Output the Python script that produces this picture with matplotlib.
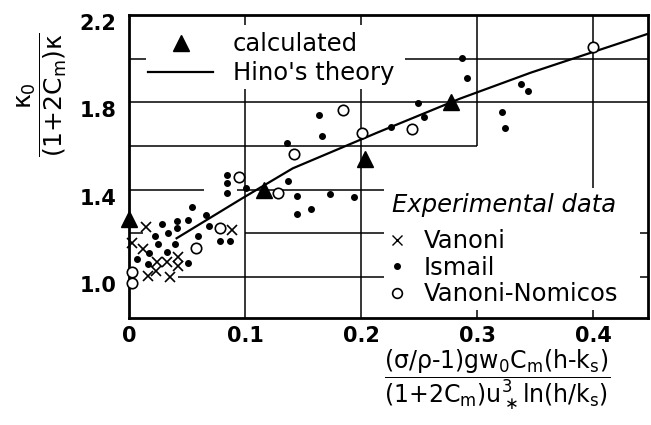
import matplotlib
matplotlib.use("Agg")
import matplotlib.pyplot as plt
import matplotlib.transforms as mtransforms
from matplotlib.lines import Line2D

plt.rcParams['font.family'] = 'DejaVu Sans'
plt.rcParams['mathtext.fontset'] = 'dejavusans'
plt.rcParams['mathtext.default'] = 'regular'

# values
vanoni_x = [0.015, 0.003, 0.012, 0.024, 0.033, 0.042, 0.042, 0.016, 0.023, 0.035, 0.089]
vanoni_y = [1.228, 1.155, 1.128, 1.068, 1.068, 1.091, 1.050, 1.005, 1.027, 1.000, 1.215]

ismail_x = [0.054, 0.066, 0.028, 0.041, 0.041, 0.051, 0.069, 0.022, 0.034, 0.059,
            0.025, 0.040, 0.033, 0.007, 0.016, 0.051, 0.078, 0.087, 0.017, 0.084,
            0.084, 0.084, 0.101, 0.136, 0.137, 0.145, 0.145, 0.157, 0.166, 0.173,
            0.194, 0.164, 0.226, 0.249, 0.254, 0.287, 0.291, 0.321, 0.324, 0.338,
            0.344]
ismail_y = [1.320, 1.283, 1.242, 1.256, 1.224, 1.260, 1.233, 1.187, 1.201, 1.187,
            1.151, 1.151, 1.114, 1.082, 1.059, 1.064, 1.164, 1.164, 1.110, 1.466,
            1.429, 1.384, 1.406, 1.616, 1.438, 1.370, 1.288, 1.310, 1.644, 1.379,
            1.365, 1.744, 1.689, 1.795, 1.731, 2.005, 1.913, 1.758, 1.685, 1.886,
            1.854]

nomicos_x = [0.003, 0.003, 0.058, 0.078, 0.095, 0.128, 0.142, 0.184, 0.201, 0.244, 0.400]
nomicos_y = [1.023, 0.973, 1.132, 1.224, 1.457, 1.384, 1.566, 1.763, 1.658, 1.680, 2.055]

calc_x = [0.0, 0.116, 0.203, 0.277]
calc_y = [1.265, 1.397, 1.543, 1.804]

hino_x = [0.041, 0.096, 0.141, 0.214, 0.285, 0.346, 0.447]
hino_y = [1.178, 1.356, 1.498, 1.662, 1.817, 1.936, 2.114]

x_ticks = [0, 0.1, 0.2, 0.3, 0.4]
x_ticklabels = ['0', '0.1', '0.2', '0.3', '0.4']
y_ticks = [1.0, 1.4, 1.8, 2.2]
y_ticklabels = ['1.0', '1.4', '1.8', '2.2']

fig = plt.figure(figsize=(6.51, 4.25), dpi=100)
ax = fig.add_axes([129 / 651, 1 - 318 / 425, 519 / 651, 303 / 425])
ax.set_xlim(0, 0.447)
ax.set_ylim(0.813, 2.2)

# grid of the original is broken around the legends
h_grid = {
    1.0: [(0.042, 0.22), (0.44, 0.447)],
    1.2: [(0.0, 0.012), (0.1, 0.22), (0.44, 0.447)],
    1.4: [(0.0, 0.065), (0.093, 0.22)],
    1.6: [(0.0, 0.30)],
    1.8: [(0.0, 0.447)],
    2.0: [(0.0, 0.015), (0.238, 0.447)],
}
v_grid = {
    0.1: [(2.155, 2.2), (0.813, 1.86)],
    0.2: [(2.155, 2.2), (0.813, 1.86)],
    0.3: [(1.6, 2.2), (0.813, 0.85)],
    0.4: [(1.41, 2.2), (0.813, 0.85)],
}
for y, segs in h_grid.items():
    for x0, x1 in segs:
        ax.hlines(y, x0, x1, color='k', lw=1.1, zorder=1)
for x, segs in v_grid.items():
    for y0, y1 in segs:
        ax.vlines(x, y0, y1, color='k', lw=1.1, zorder=1)

ax.plot(hino_x, hino_y, color='k', lw=1.6, zorder=2)
ax.plot(vanoni_x, vanoni_y, ls='none', marker='x', color='k', ms=7.5, mew=1.2,
        clip_on=False, zorder=3)
ax.plot(ismail_x, ismail_y, ls='none', marker='o', color='k', ms=4,
        clip_on=False, zorder=3)
ax.plot(nomicos_x, nomicos_y, ls='none', marker='o', mfc='white', mec='k', ms=7.5,
        mew=1.2, clip_on=False, zorder=3)
ax.plot(calc_x, calc_y, ls='none', marker='^', color='k', ms=11,
        clip_on=False, zorder=4)

for s in ax.spines.values():
    s.set_linewidth(2.0)

ax.set_xticks(x_ticks)
ax.set_xticklabels(x_ticklabels)
ax.set_yticks(y_ticks)
ax.set_yticklabels(y_ticklabels)
ax.tick_params(length=0, labelsize=15)
ax.tick_params(axis='x', pad=6)
ax.tick_params(axis='y', pad=9)
for lbl in ax.get_xticklabels() + ax.get_yticklabels():
    lbl.set_fontweight('bold')
shift = mtransforms.ScaledTranslation(0, -0.07, fig.dpi_scale_trans)
for lbl in ax.get_yticklabels():
    lbl.set_transform(lbl.get_transform() + shift)

fs = 17.5
h1 = [Line2D([], [], ls='none', marker='^', color='k', ms=11),
      Line2D([], [], color='k', lw=1.6)]
leg1 = ax.legend(h1, ['calculated', "Hino's theory"], loc='upper left',
                 bbox_to_anchor=(0.023, 0.967), fontsize=fs, frameon=False,
                 handlelength=2.67, handletextpad=0.82, labelspacing=0.2,
                 borderpad=0.3, borderaxespad=0)
ax.add_artist(leg1)

h2 = [Line2D([], [], ls='none', marker='x', color='k', ms=6.5, mew=1.0),
      Line2D([], [], ls='none', marker='o', color='k', ms=4),
      Line2D([], [], ls='none', marker='o', mfc='white', mec='k', ms=7, mew=1.2)]
ax.legend(h2, ['Vanoni', 'Ismail', 'Vanoni-Nomicos'], loc='upper left',
          bbox_to_anchor=(0.483, 0.317), fontsize=fs, frameon=False,
          handlelength=0.8, handletextpad=0.7, labelspacing=0.1,
          borderpad=0.3, borderaxespad=0)
ax.text(0.507, 0.373, 'Experimental data', transform=ax.transAxes, fontsize=fs,
        style='italic', ha='left', va='center')

ylabel = r'$\dfrac{\kappa_0}{\text{(1+2}C_m\text{)}\kappa}$'
xlabel = (r'$\dfrac{\text{(}\sigma/\rho\text{-1)}gw_0C_m\text{(h-}k_s\text{)}}'
          r'{\text{(1+2}C_m\text{)}u_\ast^3\text{ln(h/}k_s\text{)}}$')
fig.text(42 / 651, 1 - 95 / 425, ylabel, rotation=90, ha='center', va='center', fontsize=18)
fig.text(497 / 651, 1 - 380 / 425, xlabel, ha='center', va='center', fontsize=17)

fig.savefig('out.png', dpi=100)
